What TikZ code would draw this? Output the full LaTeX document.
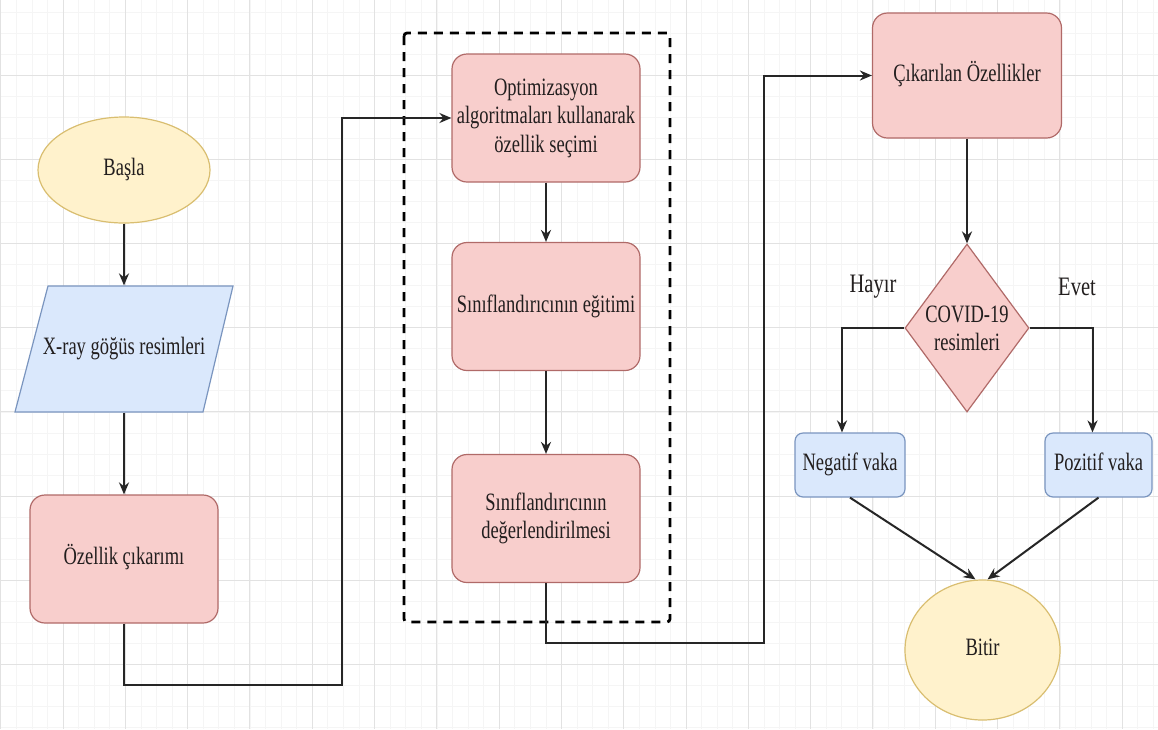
\documentclass[tikz,border=0pt]{standalone}
\usepackage{fontspec}
\usepackage{graphicx}
\setmainfont{Liberation Serif}
\usetikzlibrary{shapes.geometric,arrows.meta}
\definecolor{pinkfill}{HTML}{F8CECC}
\definecolor{pinkdraw}{HTML}{B06A68}
\definecolor{bluefill}{HTML}{DAE8FC}
\definecolor{bluedraw}{HTML}{7A95BF}
\definecolor{yelfill}{HTML}{FFF2CC}
\definecolor{yeldraw}{HTML}{D9BE70}
\definecolor{gridmajor}{HTML}{E2E2E2}
\definecolor{gridminor}{HTML}{F5F5F5}
\definecolor{txt}{HTML}{221E1E}
\newcommand{\sttext}[1]{\scalebox{1}[1.35]{\begin{tabular}{@{}c@{}}#1\end{tabular}}}
\tikzset{
  base/.style={font=\fontsize{18.5}{21}\selectfont, text=txt, align=center, line width=1.2pt},
  pinkbox/.style={base, draw=pinkdraw, fill=pinkfill, rounded corners=15pt, minimum width=188pt, minimum height=128pt},
  bluebox/.style={base, draw=bluedraw, fill=bluefill, rounded corners=8pt, minimum height=64pt, inner sep=2pt},
  yelell/.style={base, ellipse, draw=yeldraw, fill=yelfill, inner sep=0pt},
  conn/.style={line width=2pt, draw=black!85, -{Stealth[length=12pt,width=10pt]}},
  lbl/.style={font=\fontsize{20.5}{23}\selectfont, text=txt}
}
\begin{document}
\begin{tikzpicture}[x=1pt,y=-1pt]
\useasboundingbox (0,0) rectangle (1158,729);
\fill[white] (0,0) rectangle (1158,729);
% grid
\foreach \k in {-1,...,75}{
  \draw[gridminor, line width=0.6pt] ({0.7+15.575*\k},0) -- ({0.7+15.575*\k},729);
}
\foreach \k in {-1,...,36}{
  \draw[gridminor, line width=0.6pt] (0,{-9.2+21.05*\k}) -- (1158,{-9.2+21.05*\k});
}
\foreach \k in {0,...,18}{
  \draw[gridmajor, line width=1pt] ({0.7+62.3*\k},0) -- ({0.7+62.3*\k},729);
}
\foreach \k in {0,...,9}{
  \draw[gridmajor, line width=1pt] (0,{-9.2+84.2*\k}) -- (1158,{-9.2+84.2*\k});
}
% dashed group frame
\draw[line width=2.8pt, dash pattern=on 9pt off 7pt, rounded corners=3pt] (404,33) rectangle (670,622);

% left column
\node[yelell, minimum width=172pt, minimum height=106pt] (basla) at (124,170) {\sttext{Başla}};
\draw[base, draw=bluedraw, fill=bluefill] (48,286) -- (233,286) -- (203,412) -- (15,412) -- cycle;
\node[base, minimum width=186pt, minimum height=126pt, inner sep=0pt] (xray) at (124,349) {\sttext{X-ray göğüs resimleri}};
\node[pinkbox] (ozellik) at (124,559) {\sttext{Özellik çıkarımı}};

% middle column
\node[pinkbox] (opt) at (546,118) {\sttext{Optimizasyon\\algoritmaları kullanarak\\özellik seçimi}};
\node[pinkbox] (egit) at (546,306.5) {\sttext{Sınıflandırıcının eğitimi}};
\node[pinkbox] (deger) at (546,518.5) {\sttext{Sınıflandırıcının\\değerlendirilmesi}};

% right column
\node[pinkbox, minimum width=189pt, minimum height=125pt] (cik) at (967,75.5) {\sttext{Çıkarılan Özellikler}};
\node[base, diamond, draw=pinkdraw, fill=pinkfill, minimum width=124pt, minimum height=168pt, inner sep=0pt, aspect=0.74] (covid) at (967,328) {};
\node[base, inner sep=0pt] (covidtxt) at (967,331) {\sttext{COVID-19\\resimleri}};
\node[bluebox, minimum width=110pt] (neg) at (850,465) {\sttext{Negatif vaka}};
\node[bluebox, minimum width=107pt] (poz) at (1098.5,465) {\sttext{Pozitif vaka}};
\node[yelell, minimum width=155pt, minimum height=140pt] (bitir) at (982.5,650) {\sttext{Bitir}};

\node[lbl] (hayir) at (873,287) {\scalebox{1}[1.3]{Hayır}};
\node[lbl] (evet) at (1077,287) {\scalebox{1}[1.3]{Evet}};

% helper coordinates
\coordinate (c1) at (342,685);
\coordinate (c2) at (764,643);

% connectors
\draw[conn] (basla) -- (xray);
\draw[conn] (xray) -- (ozellik);
\draw[conn] (ozellik.south) |- (c1) |- (opt.west);
\draw[conn] (opt) -- (egit);
\draw[conn] (egit) -- (deger);
\draw[conn] (deger.south) |- (c2) |- (cik.west);
\draw[conn] (cik.south) -- (covid.north);
\draw[conn] (covid.west) -| ([xshift=-8pt]neg.north);
\draw[conn] (covid.east) -| ([xshift=-6pt]poz.north);
\draw[conn] (neg.south) -- ([xshift=-7pt]bitir.north);
\draw[conn] (poz.south) -- ([xshift=5pt]bitir.north);
\end{tikzpicture}
\end{document}
